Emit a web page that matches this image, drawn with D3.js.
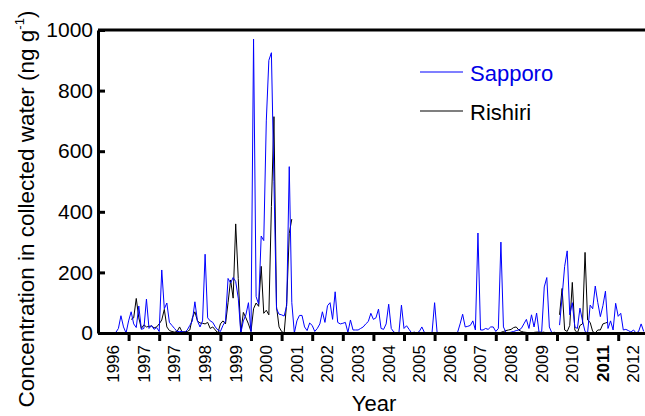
<!DOCTYPE html>
<html>
<head>
<meta charset="utf-8">
<script src="https://cdn.jsdelivr.net/npm/d3@7"></script>
<style>
  html, body { margin: 0; padding: 0; background: #fff; }
  svg { display: block; font-family: "Liberation Sans", Arial, Helvetica, sans-serif; }
</style>
</head>
<body>
<svg id="chart" width="645" height="416"></svg>
<script>
// ---- Data (monthly samples, index 0 = start of the first labelled interval) ----
const startYear = 1996;
const yTicks = [0, 200, 400, 600, 800, 1000];
const xTickYears = [1997, 1998, 1999, 2000, 2001, 2002, 2003, 2004, 2005, 2006, 2007, 2008, 2009, 2010, 2011, 2012, 2013];
const xLabels = ["1996","1997","1997","1998","1999","2000","2001","2002","2003","2004","2005","2006","2007","2008","2009","2010","2011","2012"];
const boldLabels = ["2011"];
const seriesNames = ["Sapporo", "Rishiri"];
const seriesColors = ["#0000ff", "#000000"];

const sapporo = [
  null,null,null,null,null,null,0,2,15,57,20,0,
  40,70,30,18,89,12,15,112,15,25,12,18,
  5,208,80,99,35,25,15,5,5,5,2,10,
  25,40,103,40,20,40,260,50,40,35,20,10,
  5,25,40,180,165,183,170,115,0,40,60,100,
  5,970,120,95,320,305,700,900,925,500,80,62,
  60,56,90,549,100,0,40,58,58,20,8,33,
  25,5,15,30,70,35,90,100,45,136,35,30,
  32,35,2,43,10,10,10,15,20,30,38,65,
  45,50,79,15,12,30,95,15,3,0,0,92,
  15,24,12,0,3,0,5,20,2,0,0,2,
  100,0,null,null,null,null,null,null,null,2,30,62,
  20,22,25,40,10,330,10,10,15,12,20,20,
  5,15,300,20,2,0,3,5,8,10,15,30,
  45,15,60,20,66,0,5,152,183,20,0,3,
  null,26,120,220,271,60,100,20,15,82,40,5,
  0,92,80,155,100,54,90,138,15,40,10,98,
  55,65,10,12,8,3,10,0,5,30,5
];

const rishiri = [
  null,null,null,null,null,null,null,null,null,null,null,null,
  null,45,50,114,50,15,27,20,22,23,17,20,
  30,43,78,20,8,5,3,5,20,3,5,5,
  10,50,70,40,33,32,30,35,15,20,10,0,
  30,40,30,100,175,115,360,180,0,68,50,30,
  5,80,99,88,220,65,75,60,417,714,87,20,
  5,0,100,329,376,null,null,null,null,null,null,null,
  null,null,null,null,null,null,null,null,null,null,null,null,
  null,null,null,null,null,null,null,null,null,null,null,null,
  null,null,null,null,null,null,null,null,null,null,null,null,
  null,null,null,null,null,null,null,null,null,null,null,null,
  null,null,null,null,null,null,null,null,null,null,null,null,
  null,null,null,null,null,null,null,null,null,null,null,null,
  null,0,2,5,8,10,12,18,20,10,5,3,
  2,0,0,2,3,3,2,3,null,null,null,null,
  null,60,147,10,5,25,167,10,0,25,30,266,
  43,35,5,0,10,10,30,33,36
];

// ---- Layout ----
const svg = d3.select("#chart");
const plotL = 98, plotR = 645, plotT = 30, plotB = 333;
const yearPx = 30.6;
const x = d3.scaleLinear()
  .domain([startYear, startYear + (plotR - plotL) / yearPx])
  .range([plotL, plotR]);
const y = d3.scaleLinear().domain([0, 1000]).range([plotB, plotT]);

const toPoints = arr => arr.map((v, i) => ({ t: startYear + i / 12, v }));

const line = d3.line()
  .defined(d => d.v !== null)
  .x(d => x(d.t))
  .y(d => y(d.v));

// Series lines (Rishiri drawn first, Sapporo over it)
[[rishiri, 1], [sapporo, 0]].forEach(([arr, idx]) => {
  svg.append("path")
    .datum(toPoints(arr))
    .attr("fill", "none")
    .attr("stroke", seriesColors[idx])
    .attr("stroke-width", 1)
    .attr("stroke-linejoin", "round")
    .attr("d", line);
});

// Top border
svg.append("line")
  .attr("x1", plotL).attr("x2", plotR)
  .attr("y1", plotT).attr("y2", plotT)
  .attr("stroke", "#000").attr("stroke-width", 3);

// Y axis
const yAxis = svg.append("g")
  .attr("transform", `translate(${plotL},0)`)
  .call(d3.axisLeft(y).tickValues(yTicks).tickFormat(d3.format("d"))
    .tickSize(-7).tickSizeOuter(0).tickPadding(5));
yAxis.select(".domain").attr("stroke-width", 3);
yAxis.selectAll(".tick line").attr("stroke-width", 3);
yAxis.selectAll(".tick text")
  .attr("font-size", 21)
  .attr("font-family", "Liberation Sans, Arial, sans-serif")
  .attr("fill", "#000");

// X axis
const xAxis = svg.append("g")
  .attr("transform", `translate(0,${plotB})`)
  .call(d3.axisBottom(x).tickValues(xTickYears).tickSize(8).tickSizeOuter(0).tickFormat(""));
xAxis.select(".domain").attr("stroke-width", 3);
xAxis.selectAll(".tick line").attr("stroke-width", 3);

// X labels (centred in each yearly interval, rotated)
svg.append("g").selectAll("text")
  .data(xLabels)
  .join("text")
  .attr("transform", (d, i) => `translate(${x(startYear + i + 0.5)},345) rotate(-90)`)
  .attr("text-anchor", "end")
  .attr("dy", "0.35em")
  .attr("font-size", 17)
  .attr("font-weight", d => boldLabels.includes(d) ? "bold" : "normal")
  .text(d => d);

// Axis titles
svg.append("text")
  .attr("x", 374).attr("y", 411)
  .attr("text-anchor", "middle")
  .attr("font-size", 22)
  .text("Year");

const yTitle = svg.append("text")
  .attr("transform", "translate(33.5,209) rotate(-90)")
  .attr("text-anchor", "middle")
  .attr("font-size", 22.5);
yTitle.append("tspan").text("Concentration in collected water (ng g");
yTitle.append("tspan").attr("font-size", 13).attr("dy", "-0.75em").text("-1");
yTitle.append("tspan").attr("dy", "0.45em").text(")");

// Legend
const legendY = [72, 111];
seriesNames.forEach((name, i) => {
  svg.append("line")
    .attr("x1", 420).attr("x2", 463)
    .attr("y1", legendY[i]).attr("y2", legendY[i])
    .attr("stroke", seriesColors[i]).attr("stroke-width", 1.2);
  svg.append("text")
    .attr("x", 470).attr("y", legendY[i] + 8.5)
    .attr("font-size", 22)
    .attr("fill", i === 0 ? "#0000e6" : "#000")
    .text(name);
});
</script>
</body>
</html>
